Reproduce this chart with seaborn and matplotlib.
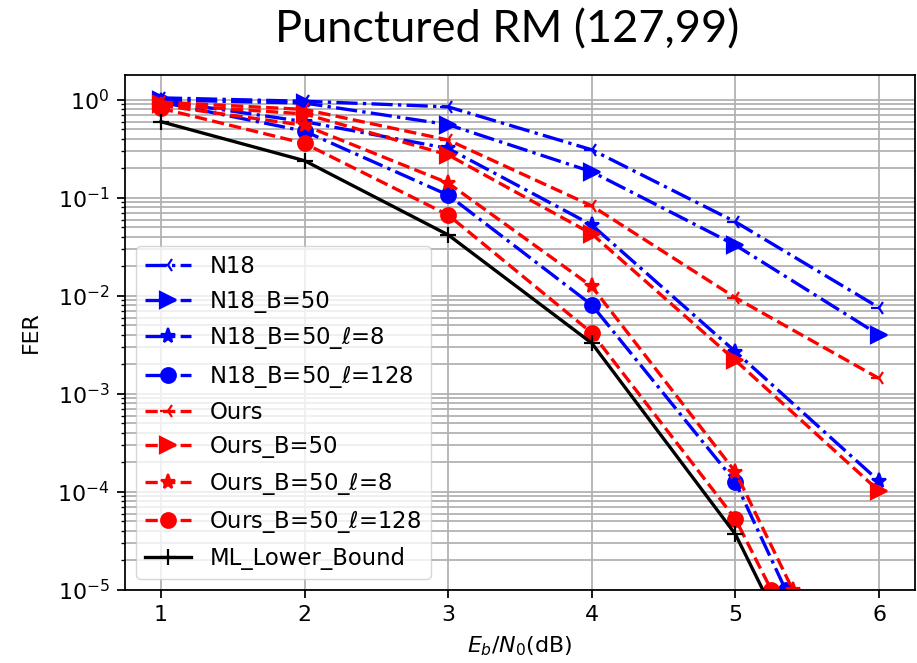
import pandas as pd
import seaborn as sns
import matplotlib.pyplot as plt


# Eb/N0 points (dB)
snr = [1, 2, 3, 4, 5, 6]
snr_n18_l128 = [1, 2, 3, 4, 5, 5.35]
snr_ours_l8 = [1, 2, 3, 4, 5, 5.4]
snr_ours_l128 = [1, 2, 3, 4, 5, 5.25]

# FER
fer_n18 = [1.05, 0.97, 0.85, 0.31, 0.057, 0.0076]
fer_n18_b50 = [1.0, 0.93, 0.56, 0.185, 0.033, 0.0040]
fer_n18_b50_l8 = [0.98, 0.60, 0.32, 0.053, 0.0027, 1.29e-4]
fer_n18_b50_l128 = [0.95, 0.48, 0.107, 0.0081, 1.26e-4, 1.0e-5]
fer_ours = [0.95, 0.80, 0.39, 0.083, 0.0096, 0.00144]
fer_ours_b50 = [0.90, 0.72, 0.275, 0.043, 0.0022, 1.02e-4]
fer_ours_b50_l8 = [0.88, 0.55, 0.142, 0.0125, 1.6e-4, 1.0e-5]
fer_ours_b50_l128 = [0.82, 0.36, 0.067, 0.0042, 5.3e-5, 1.0e-5]
fer_ml_bound = [0.60, 0.24, 0.042, 0.0033, 3.7e-5, 4.0e-8]

labels = ["N18", "N18_B=50", r"N18_B=50_$\ell$=8", r"N18_B=50_$\ell$=128",
          "Ours", "Ours_B=50", r"Ours_B=50_$\ell$=8", r"Ours_B=50_$\ell$=128",
          "ML_Lower_Bound"]

# scale matplotlib defaults up (original was rendered at a higher dpi)
s = 1.59
plt.rcParams.update({
    "font.size": 10 * s,
    "lines.linewidth": 1.5 * s,
    "axes.linewidth": 0.8 * s,
    "xtick.major.size": 3.5 * s, "ytick.major.size": 3.5 * s,
    "xtick.minor.size": 2 * s, "ytick.minor.size": 2 * s,
    "xtick.major.width": 0.8 * s, "ytick.major.width": 0.8 * s,
    "xtick.minor.width": 0.6 * s, "ytick.minor.width": 0.6 * s,
    "xtick.major.pad": 3.5 * s, "ytick.major.pad": 3.5 * s,
    "axes.labelpad": 4 * s,
    "grid.linewidth": 0.8 * s,
})

series = [
    (snr, fer_n18, "blue", "-.", "3", 11),
    (snr, fer_n18_b50, "blue", "-.", ">", 11),
    (snr, fer_n18_b50_l8, "blue", "-.", "*", 11),
    (snr_n18_l128, fer_n18_b50_l128, "blue", "-.", "o", 10.5),
    (snr, fer_ours, "red", "--", "3", 11),
    (snr, fer_ours_b50, "red", "--", ">", 11),
    (snr_ours_l8, fer_ours_b50_l8, "red", "--", "*", 11),
    (snr_ours_l128, fer_ours_b50_l128, "red", "--", "o", 10.5),
    (snr, fer_ml_bound, "black", "-", "+", 11),
]

fig = plt.figure(figsize=(9.17, 6.63), dpi=100)
ax = fig.add_axes([0.1363, 0.1101, 0.8615, 0.7769])

for label, (x, y, color, ls, marker, ms) in zip(labels, series):
    df = pd.DataFrame({"snr": x, "fer": y})
    sns.lineplot(data=df, x="snr", y="fer", ax=ax, color=color, linestyle=ls,
                 marker=marker, markersize=ms, markeredgecolor=color,
                 markeredgewidth=1.0 * s, label=label)

ax.set_yscale("log")
ax.set_xlim(0.75, 6.25)
ax.set_ylim(1e-5, 1.8)
ax.grid(True, which="both")
ax.set_xlabel(r"$E_b/N_0$(dB)")
ax.set_ylabel("FER", labelpad=12)
ax.legend(loc="lower left", fontsize=16.4)

fig.text(0.553, 0.955, "Punctured RM (127,99)", fontsize=32.5, family="Lato",
         ha="center", va="center")

fig.savefig("out.png", dpi=100)
